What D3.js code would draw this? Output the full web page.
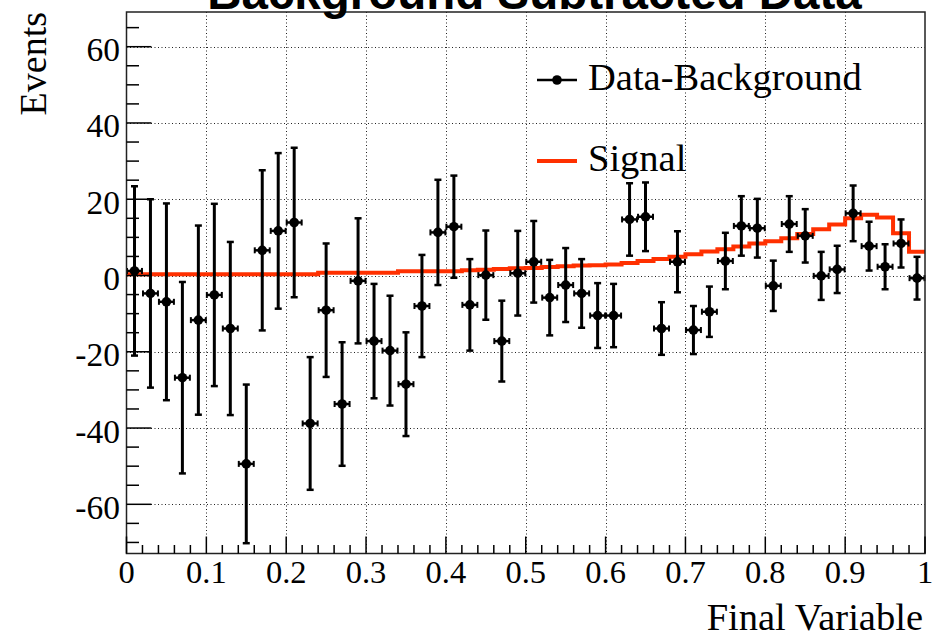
<!DOCTYPE html>
<html><head><meta charset="utf-8">
<script src="https://cdn.jsdelivr.net/npm/d3@7"></script>
<style>body{margin:0;background:#fff}svg{display:block}</style>
</head><body>
<script>
// ---- data ----
const binEdges = d3.range(0, 51).map(i => i * 0.02);
const binCenters = d3.range(0, 50).map(i => 0.01 + i * 0.02);
const dataValues = [1.2, -4.7, -6.9, -26.8, -11.7, -5.1, -13.9, -49.4, 6.6, 11.7,
  13.9, -38.8, -9.1, -33.7, -1.4, -17.2, -19.7, -28.5, -8.0, 11.3,
  12.8, -7.7, 0.1, -17.2, 0.6, 3.6, -5.8, -2.5, -4.7, -10.5,
  -10.5, 14.7, 15.4, -13.9, 3.6, -14.3, -9.5, 3.8, 13.0, 12.4,
  -2.7, 13.5, 10.4, -0.1, 1.6, 16.3, 7.7, 2.3, 8.4, -0.7];
const dataErrors = [22.2, 24.7, 25.8, 25.1, 24.8, 23.9, 22.7, 20.8, 21.0, 20.4,
  19.6, 17.4, 17.5, 16.2, 16.4, 15.0, 14.4, 13.6, 13.4, 13.8,
  13.4, 12.0, 11.7, 10.6, 11.1, 10.7, 9.9, 9.7, 9.0, 8.5,
  8.3, 9.5, 9.0, 6.9, 8.0, 6.3, 6.6, 7.4, 7.8, 7.7,
  6.6, 7.3, 7.0, 6.3, 6.2, 7.3, 6.4, 5.9, 6.3, 5.6];
const signalValues = [0.3, 0.3, 0.3, 0.3, 0.3, 0.3, 0.3, 0.3, 0.3, 0.3,
  0.3, 0.3, 0.7, 0.7, 0.7, 0.7, 0.7, 1.1, 1.1, 1.1,
  1.1, 1.4, 1.5, 1.7, 1.9, 2.0, 2.2, 2.4, 2.6, 2.7,
  2.9, 3.3, 3.8, 4.3, 4.9, 5.6, 6.3, 6.9, 7.6, 8.4,
  9.0, 9.8, 10.9, 12.1, 13.4, 15.0, 15.9, 15.2, 11.1, 6.2];
const xTickValues = [0, 0.1, 0.2, 0.3, 0.4, 0.5, 0.6, 0.7, 0.8, 0.9, 1];
const xTickLabels = ["0", "0.1", "0.2", "0.3", "0.4", "0.5", "0.6", "0.7", "0.8", "0.9", "1"];
const yTickValues = [-60, -40, -20, 0, 20, 40, 60];
const yTickLabels = ["-60", "-40", "-20", "0", "20", "40", "60"];
const xMinorTicks = d3.range(0, 51).map(i => i * 0.02);
const yMinorTicks = d3.range(-70, 70, 5);
const titleText = "Background Subtracted Data";
const xTitle = "Final Variable";
const yTitle = "Events";
const legendLabels = ["Data-Background", "Signal"];

// ---- layout ----
const W = 943, H = 636;
const L = 126.5, R = 925, T = 12, B = 553.5;
const serif = "'Liberation Serif','Times New Roman',serif";
const sans = "'Liberation Sans',Arial,sans-serif";
const red = "#ff3000";

const svg = d3.select("body").append("svg").attr("width", W).attr("height", H);
const x = d3.scaleLinear().domain([0, 1]).range([L, R]);
const y = d3.scaleLinear().domain([-72.9, 69.1]).range([B, T]);

// grid
const grid = svg.append("g").attr("stroke", "#222").attr("stroke-width", 1).attr("stroke-dasharray", "1,2.5");
grid.selectAll(".gx").data(xTickValues.filter(v => v > 0 && v < 1)).join("line")
  .attr("x1", d => Math.round(x(d)) + 0.5).attr("x2", d => Math.round(x(d)) + 0.5).attr("y1", T).attr("y2", B);
grid.selectAll(".gy").data(yTickValues).join("line")
  .attr("y1", d => Math.round(y(d)) + 0.5).attr("y2", d => Math.round(y(d)) + 0.5).attr("x1", L).attr("x2", R);

// signal histogram
const sigPts = signalValues.map((v, i) => [binEdges[i], v]);
sigPts.push([1, signalValues[signalValues.length - 1]]);
svg.append("path").datum(sigPts)
  .attr("d", d3.line().x(d => x(d[0])).y(d => y(d[1])).curve(d3.curveStepAfter))
  .attr("fill", "none").attr("stroke", red).attr("stroke-width", 4);

// data points
const dg = svg.append("g");
dataValues.forEach((v, i) => {
  const cx = x(binCenters[i]), cy = y(v);
  const yt = y(v + dataErrors[i]), yb = y(v - dataErrors[i]);
  const xl = x(binEdges[i]) + 0.5, xr = x(binEdges[i + 1]) - 0.5;
  const g = dg.append("g").attr("stroke", "#000");
  g.append("line").attr("x1", cx).attr("x2", cx).attr("y1", yt).attr("y2", yb).attr("stroke-width", 3);
  g.append("line").attr("x1", cx - 3.5).attr("x2", cx + 3.5).attr("y1", yt).attr("y2", yt).attr("stroke-width", 2.5);
  g.append("line").attr("x1", cx - 3.5).attr("x2", cx + 3.5).attr("y1", yb).attr("y2", yb).attr("stroke-width", 2.5);
  g.append("line").attr("x1", xl).attr("x2", xr).attr("y1", cy).attr("y2", cy).attr("stroke-width", 2.5);
  g.append("line").attr("x1", xl).attr("x2", xl).attr("y1", cy - 3).attr("y2", cy + 3).attr("stroke-width", 2);
  g.append("line").attr("x1", xr).attr("x2", xr).attr("y1", cy - 3).attr("y2", cy + 3).attr("stroke-width", 2);
  g.append("circle").attr("cx", cx).attr("cy", cy).attr("r", 4.8).attr("fill", "#000").attr("stroke", "none");
});

// frame
svg.append("rect").attr("x", L).attr("y", T).attr("width", R - L).attr("height", B - T)
  .attr("fill", "none").attr("stroke", "#222").attr("stroke-width", 1.5);

// ticks
const tk = svg.append("g").attr("stroke", "#000").attr("stroke-width", 1.5);
tk.selectAll(".xm").data(xMinorTicks).join("line")
  .attr("x1", d => x(d)).attr("x2", d => x(d)).attr("y1", B)
  .attr("y2", d => B - (xTickValues.some(t => Math.abs(t - d) < 1e-9) ? 17 : 8.5));
tk.selectAll(".ym").data(yMinorTicks).join("line")
  .attr("y1", d => y(d)).attr("y2", d => y(d)).attr("x1", L)
  .attr("x2", d => L + (d % 20 === 0 ? 25 : 12.5));

// tick labels
svg.append("g").selectAll("text").data(xTickValues).join("text")
  .attr("x", d => x(d)).attr("y", 583).attr("text-anchor", "middle")
  .attr("font-family", serif).attr("font-size", 32.5).text((d, i) => xTickLabels[i]);
svg.append("g").selectAll("text").data(yTickValues).join("text")
  .attr("x", 120).attr("y", d => y(d) + 14.5).attr("text-anchor", "end")
  .attr("font-family", serif).attr("font-size", 33.5).text((d, i) => yTickLabels[i]);

// axis titles
svg.append("text").attr("x", 923).attr("y", 630).attr("text-anchor", "end")
  .attr("font-family", serif).attr("font-size", 38.5).text(xTitle);
svg.append("text").attr("transform", "translate(46,12) rotate(-90)").attr("text-anchor", "end")
  .attr("font-family", serif).attr("font-size", 38).text(yTitle);

// title (cut at the top edge as in the reference)
svg.append("text").attr("x", 534.5).attr("y", 9).attr("text-anchor", "middle")
  .attr("font-family", sans).attr("font-weight", "bold").attr("font-size", 47.5).text(titleText);

// legend
const lg = svg.append("g");
lg.append("line").attr("x1", 537).attr("x2", 577).attr("y1", 80).attr("y2", 80).attr("stroke", "#000").attr("stroke-width", 2.5);
lg.append("circle").attr("cx", 557).attr("cy", 80).attr("r", 4.8).attr("fill", "#000");
lg.append("text").attr("x", 588).attr("y", 90).attr("font-family", serif).attr("font-size", 38.5).text(legendLabels[0]);
lg.append("line").attr("x1", 537).attr("x2", 577).attr("y1", 161).attr("y2", 161).attr("stroke", red).attr("stroke-width", 4);
lg.append("text").attr("x", 588).attr("y", 171).attr("font-family", serif).attr("font-size", 38.5).text(legendLabels[1]);
</script>
</body></html>
